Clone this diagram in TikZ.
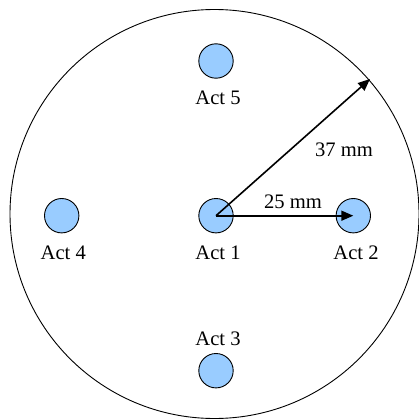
\documentclass[tikz,border=0pt]{standalone}
\usepackage{fontspec}
\setmainfont{Liberation Serif}
\usetikzlibrary{arrows.meta}
\definecolor{actblue}{HTML}{99CCFF}
\begin{document}
\begin{tikzpicture}[x=1pt,y=-1pt,
  act/.style={circle,draw=black,line width=0.9pt,fill=actblue,minimum size=34.4pt,inner sep=0pt},
  lbl/.style={inner sep=0pt,anchor=base,font=\fontsize{20.6}{24}\selectfont},
  dim/.style={line width=1.6pt,-{Triangle[length=12pt,width=10pt]}}]
\useasboundingbox (0,0) rectangle (419,420);
\node[circle,draw=black,line width=0.9pt,minimum size=409pt,inner sep=0pt] (outer) at (214.5,214) {};
\node[act] (a1) at (216,215.7) {};
\node[act] (a2) at (353.3,215.7) {};
\node[act] (a3) at (216,370.7) {};
\node[act] (a4) at (61.7,215.7) {};
\node[act] (a5) at (216,61) {};
\node[lbl] (l1) at (218,259.3) {Act 1};
\node[lbl] (l2) at (356,259.3) {Act 2};
\node[lbl] (l3) at (218,345.7) {Act 3};
\node[lbl] (l4) at (63.3,259.3) {Act 4};
\node[lbl] (l5) at (218,104.3) {Act 5};
\node[lbl] (d37) at (344,156.7) {37 mm};
\node[lbl] (d25) at (293,208.3) {25 mm};
\coordinate (rim) at (370,79);
\draw[dim] (a1.center) -- (rim);
\draw[dim] (a1.center) -- (a2.center);
\end{tikzpicture}
\end{document}
